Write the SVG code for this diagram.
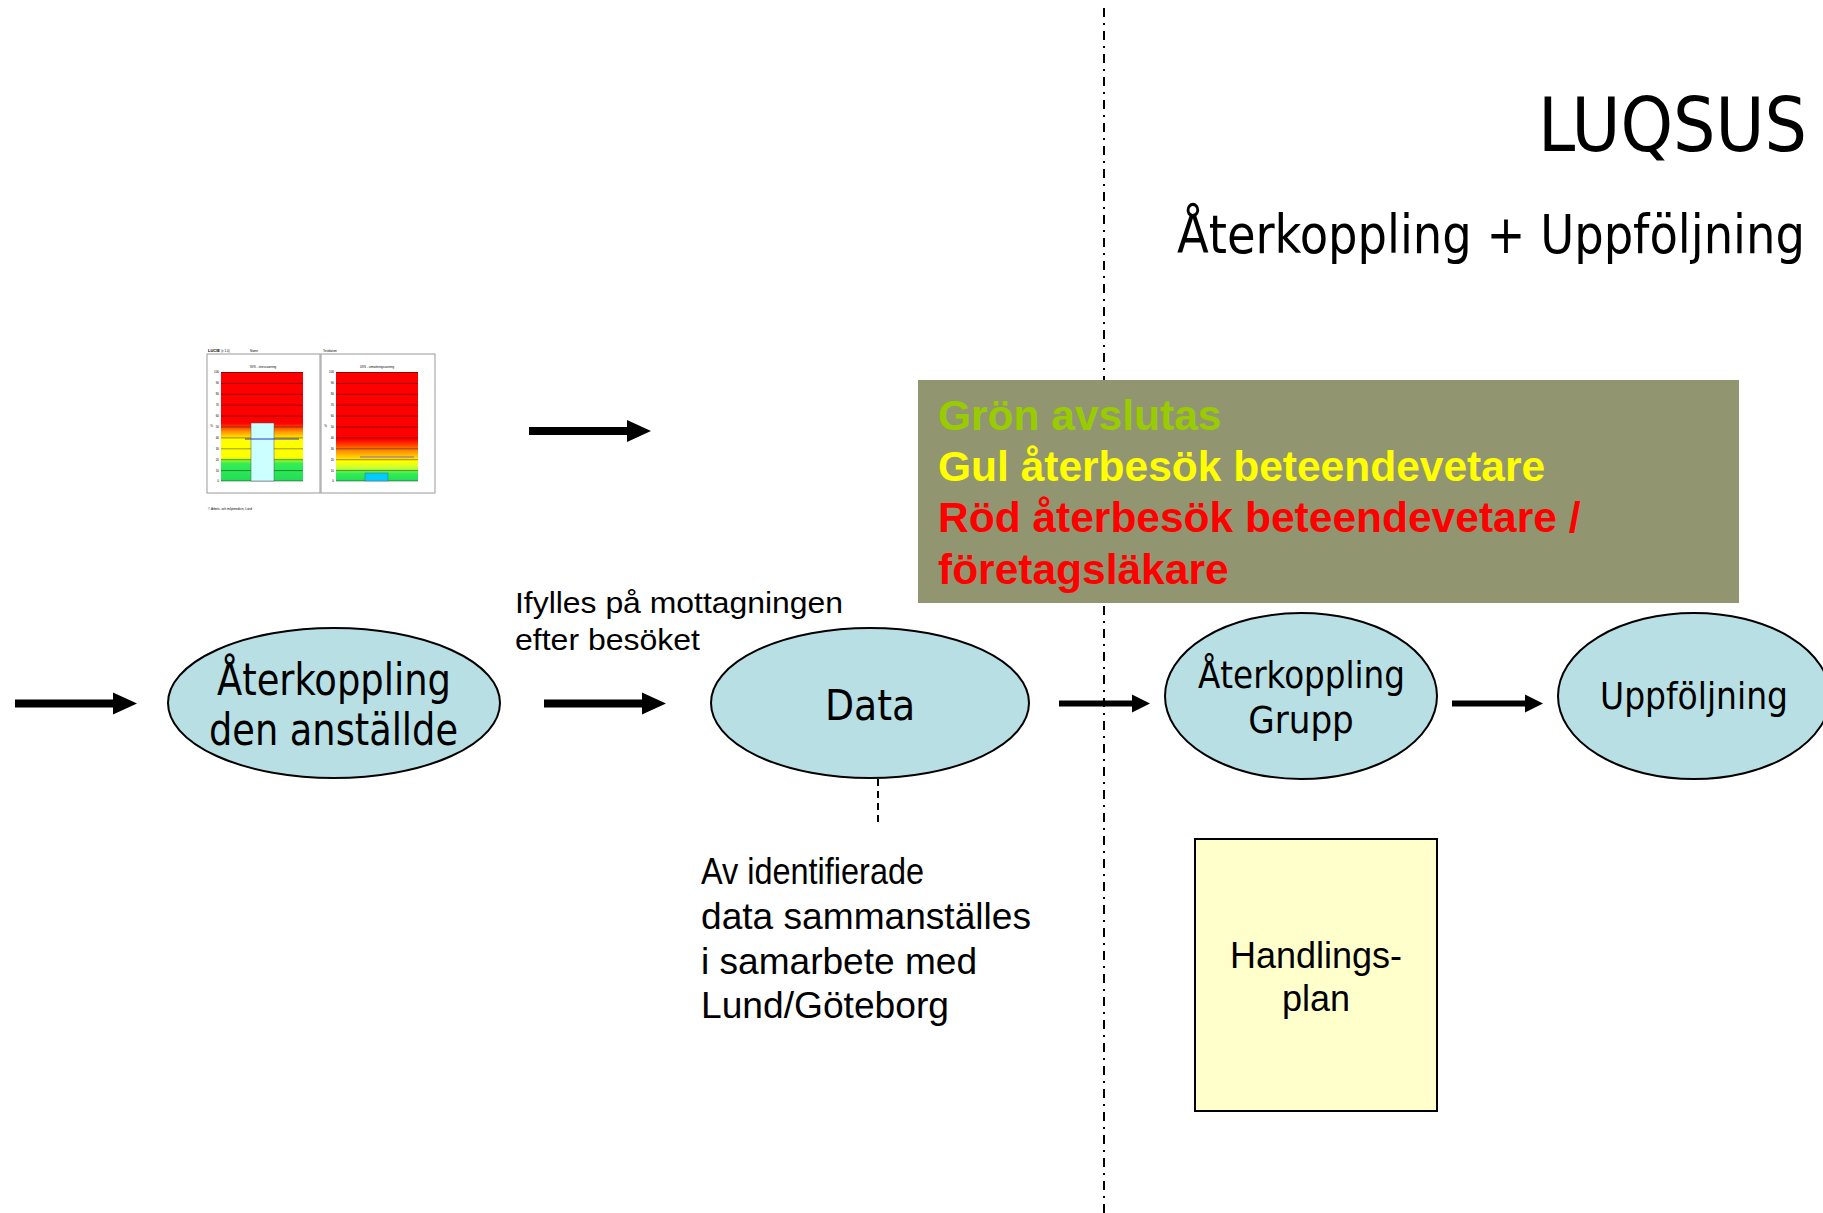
<svg xmlns="http://www.w3.org/2000/svg" width="1823" height="1213" viewBox="0 0 1823 1213">
<style>
.ell{fill:#b8dfe3;stroke:#000;stroke-width:2}
.tah{font-family:"DejaVu Sans Condensed","DejaVu Sans",sans-serif;fill:#000}
.hel{font-family:"Liberation Sans",Arial,sans-serif;fill:#000}
.bold{font-family:"Liberation Sans",Arial,sans-serif;font-weight:bold;font-size:42.5px}
.arr{stroke:#000;fill:none}
.grid{stroke:#000;stroke-width:0.4}
.tiny{font-family:"Liberation Sans",Arial,sans-serif;font-size:3px;fill:#000}
</style>
<defs>
<marker id="headL" markerUnits="userSpaceOnUse" markerWidth="24" markerHeight="24" viewBox="0 0 24 24" refX="0" refY="12" orient="auto"><path d="M0,1 L24,12 L0,23 Z" fill="#000"/></marker>
<marker id="headS" markerUnits="userSpaceOnUse" markerWidth="18" markerHeight="20" viewBox="0 0 18 20" refX="0" refY="10" orient="auto"><path d="M0,1 L18,10 L0,19 Z" fill="#000"/></marker>
<linearGradient id="gL" x1="0" y1="0" x2="0" y2="1">
<stop offset="0" stop-color="#ff0000"/><stop offset="0.47" stop-color="#ff0000"/><stop offset="0.55" stop-color="#ff9900"/><stop offset="0.62" stop-color="#ffff00"/><stop offset="0.78" stop-color="#ffff00"/><stop offset="0.84" stop-color="#33ee55"/><stop offset="1" stop-color="#22dd55"/>
</linearGradient>
<linearGradient id="gR" x1="0" y1="0" x2="0" y2="1">
<stop offset="0" stop-color="#ff0000"/><stop offset="0.62" stop-color="#ff0000"/><stop offset="0.72" stop-color="#ff8800"/><stop offset="0.82" stop-color="#ffff00"/><stop offset="0.88" stop-color="#ccff33"/><stop offset="0.93" stop-color="#33ee55"/><stop offset="1" stop-color="#22dd55"/>
</linearGradient>
</defs>
<rect width="1823" height="1213" fill="#fff"/>

<!-- divider -->
<line x1="1104" y1="8" x2="1104" y2="1213" stroke="#000" stroke-width="2" stroke-dasharray="9 6 2 6"/>

<!-- title -->
<g id="title">
<text class="tah" x="1538" y="151" font-size="74" textLength="269" lengthAdjust="spacingAndGlyphs">LUQSUS</text>
<text class="tah" transform="translate(1177,253) scale(0.94,1)" x="0" y="0" font-size="54" textLength="668" lengthAdjust="spacingAndGlyphs">Återkoppling + Uppföljning</text>
</g>

<!-- thumbnail chart -->
<g id="thumbnail">
<text x="208" y="352" font-family="Liberation Sans,Arial,sans-serif" font-size="4" font-weight="bold">LUCIE <tspan font-weight="normal" font-size="3">(v 1.0)</tspan></text>
<text class="tiny" x="250" y="352">Namn</text>
<text class="tiny" x="323" y="352">Testdatum</text>
<rect x="207" y="354" width="113" height="139" fill="#fff" stroke="#999" stroke-width="1"/>
<rect x="321" y="354" width="114" height="139" fill="#fff" stroke="#999" stroke-width="1"/>
<text class="tiny" x="263" y="368" text-anchor="middle">SVS - stressvarning</text>
<text class="tiny" x="377" y="368" text-anchor="middle">UVS - utmattningsvarning</text>
<rect x="221" y="372" width="82" height="109" fill="url(#gL)"/>
<rect x="336" y="372" width="82" height="109" fill="url(#gR)"/>
<g class="grid">
<path d="M221,372.5H303M221,383.4H303M221,394.3H303M221,405.2H303M221,416.1H303M221,427H303M221,437.9H303M221,448.8H303M221,459.7H303M221,470.6H303M221,481H303"/>
<path d="M336,372.5H418M336,383.4H418M336,394.3H418M336,405.2H418M336,416.1H418M336,427H418M336,437.9H418M336,448.8H418M336,459.7H418M336,470.6H418M336,481H418"/>
</g>
<g class="tiny" text-anchor="end" font-size="2.6">
<text x="219" y="373">100</text><text x="219" y="384">90</text><text x="219" y="395">80</text><text x="219" y="406">70</text><text x="219" y="417">60</text><text x="219" y="428">50</text><text x="219" y="439">40</text><text x="219" y="450">30</text><text x="219" y="461">20</text><text x="219" y="472">10</text><text x="219" y="482">0</text>
<text x="334" y="373">100</text><text x="334" y="384">90</text><text x="334" y="395">80</text><text x="334" y="406">70</text><text x="334" y="417">60</text><text x="334" y="428">50</text><text x="334" y="439">40</text><text x="334" y="450">30</text><text x="334" y="461">20</text><text x="334" y="472">10</text><text x="334" y="482">0</text>
<text x="213" y="427">%</text><text x="327" y="427">%</text>
</g>
<rect x="251" y="423" width="23" height="58" fill="#ccffff" stroke="#555" stroke-width="0.5"/>
<line x1="245" y1="439" x2="299" y2="439" stroke="#3333cc" stroke-width="1"/>
<line x1="360" y1="457" x2="414" y2="457" stroke="#8866aa" stroke-width="1"/>
<rect x="365" y="473" width="23" height="8" fill="#00ccff" stroke="#555" stroke-width="0.4"/>
<text class="tiny" x="208" y="510">© Arbets- och miljömedicin, Lund</text>
</g>

<!-- nodes -->
<g id="node-aterkoppling-anstallde">
<ellipse class="ell" cx="334" cy="703" rx="166" ry="75"/>
<text class="tah" x="217" y="695" font-size="44" textLength="234" lengthAdjust="spacingAndGlyphs">Återkoppling</text>
<text class="tah" x="209" y="745" font-size="44" textLength="249" lengthAdjust="spacingAndGlyphs">den anställde</text>
</g>
<g id="node-data">
<ellipse class="ell" cx="870" cy="703" rx="159" ry="75"/>
<text class="tah" x="870" y="720" font-size="42" text-anchor="middle">Data</text>
</g>
<g id="node-aterkoppling-grupp">
<ellipse class="ell" cx="1301" cy="696" rx="136" ry="83"/>
<text class="tah" x="1198" y="688" font-size="38" textLength="207" lengthAdjust="spacingAndGlyphs">Återkoppling</text>
<text class="tah" x="1301" y="733" font-size="38" text-anchor="middle">Grupp</text>
</g>
<g id="node-uppfoljning">
<ellipse class="ell" cx="1694" cy="696" rx="136" ry="83"/>
<text class="tah" x="1600" y="709" font-size="38" textLength="188" lengthAdjust="spacingAndGlyphs">Uppföljning</text>
</g>
<g id="node-handlingsplan">
<rect x="1195" y="839" width="242" height="272" fill="#ffffcc" stroke="#000" stroke-width="2"/>
<text class="hel" x="1316" y="968" font-size="36" text-anchor="middle">Handlings-</text>
<text class="hel" x="1316" y="1011" font-size="36" text-anchor="middle">plan</text>
</g>
<g id="node-status">
<rect x="918" y="380" width="821" height="223" fill="#929670"/>
<text class="bold" x="938" y="430" fill="#99cc00">Grön avslutas</text>
<text class="bold" x="938" y="481" fill="#ffff00">Gul återbesök beteendevetare</text>
<text class="bold" x="938" y="532" fill="#ff0000">Röd återbesök beteendevetare /</text>
<text class="bold" x="938" y="584" fill="#ff0000">företagsläkare</text>
</g>
<g id="labels">
<text class="hel" x="515" y="613" font-size="30" textLength="328" lengthAdjust="spacingAndGlyphs">Ifylles på mottagningen</text>
<text class="hel" x="515" y="650" font-size="30" textLength="185" lengthAdjust="spacingAndGlyphs">efter besöket</text>
<text class="hel" x="701" y="884" font-size="37" textLength="223" lengthAdjust="spacingAndGlyphs">Av identifierade</text>
<text class="hel" x="701" y="929" font-size="37" textLength="330" lengthAdjust="spacingAndGlyphs">data sammanställes</text>
<text class="hel" x="701" y="974" font-size="37" textLength="276" lengthAdjust="spacingAndGlyphs">i samarbete med</text>
<text class="hel" x="701" y="1018" font-size="37" textLength="248" lengthAdjust="spacingAndGlyphs">Lund/Göteborg</text>
</g>

<!-- connectors -->
<g id="connectors">
<line class="arr" x1="15" y1="703.5" x2="113" y2="703.5" stroke-width="8" marker-end="url(#headL)"/>
<line class="arr" x1="529" y1="431" x2="627" y2="431" stroke-width="8" marker-end="url(#headL)"/>
<line class="arr" x1="544" y1="703.5" x2="642" y2="703.5" stroke-width="8" marker-end="url(#headL)"/>
<line class="arr" x1="1059" y1="703.5" x2="1132" y2="703.5" stroke-width="6" marker-end="url(#headS)"/>
<line class="arr" x1="1452" y1="703.5" x2="1525" y2="703.5" stroke-width="6" marker-end="url(#headS)"/>
<line class="arr" x1="878" y1="779" x2="878" y2="824" stroke-width="2" stroke-dasharray="7 5"/>
</g>
</svg>
